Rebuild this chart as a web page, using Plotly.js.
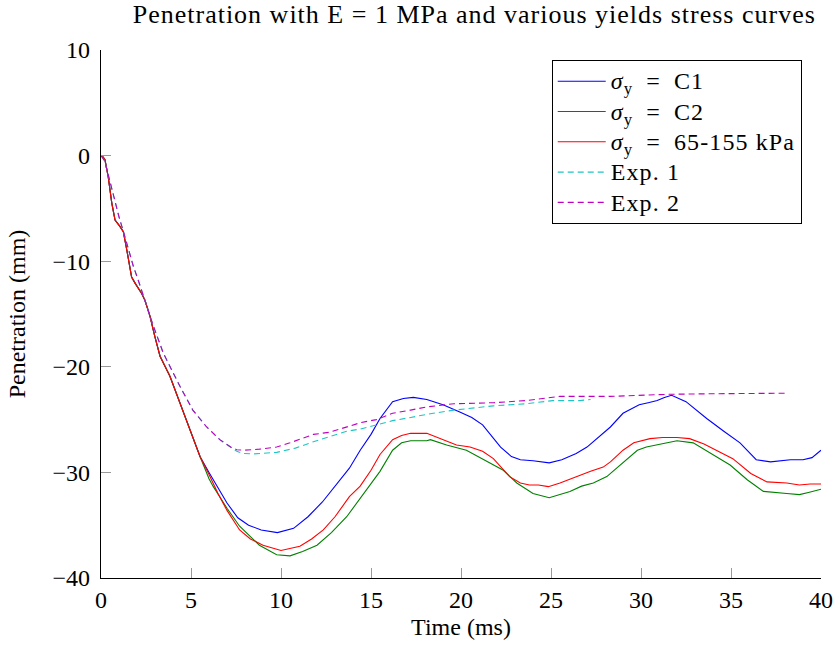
<!DOCTYPE html>
<html>
<head>
<meta charset="utf-8">
<script src="https://cdn.plot.ly/plotly-3.0.1.min.js"></script>
<style>
html,body{margin:0;padding:0;background:#fff;}
#chart{width:835px;height:648px;}
.gtitle{letter-spacing:1px;}
.legendtext{letter-spacing:1.1px;}
</style>
</head>
<body>
<div id="chart"></div>
<script>
// ---- Data ----
const tEarly = [0, 0.1, 0.22, 0.4, 0.6, 0.78, 1.05, 1.24, 1.43, 1.7, 1.9, 2.26, 2.44, 2.72, 3.0, 3.28, 3.83, 4.39, 4.94, 5.5];
const vEarly = [0, -0.1, -0.4, -2.0, -4.5, -6.1, -6.7, -7.2, -8.9, -11.5, -12.1, -13.05, -13.7, -15.2, -17.2, -19.0, -20.9, -23.5, -26.0, -28.5];

const tC1 = [6.0, 6.5, 7.0, 7.6, 8.2, 8.9, 9.8, 10.7, 11.5, 12.3, 13.0, 13.8, 14.4, 15.0, 15.5, 16.2, 16.8, 17.35, 18.1, 19.0, 19.9, 20.6, 21.2, 21.7, 22.2, 22.8, 23.3, 24.0, 24.9, 25.6, 26.4, 27.0, 27.5, 28.3, 29.0, 29.9, 30.4, 30.9, 31.3, 31.7, 32.5, 33.0, 33.65, 34.6, 35.5, 36.4, 37.2, 38.3, 39.0, 39.5, 40.0];
const vC1 = [-30.0, -31.5, -32.9, -34.3, -35.0, -35.45, -35.7, -35.3, -34.2, -32.8, -31.3, -29.6, -27.9, -26.4, -24.9, -23.3, -23.0, -22.9, -23.1, -23.6, -24.25, -24.8, -25.5, -26.5, -27.6, -28.5, -28.8, -28.9, -29.1, -28.8, -28.2, -27.6, -26.9, -25.7, -24.4, -23.6, -23.4, -23.2, -22.9, -22.7, -23.3, -24.0, -24.9, -26.1, -27.2, -28.8, -29.0, -28.8, -28.8, -28.6, -27.9];

const tC2 = [6.0, 6.24, 7.0, 7.7, 8.8, 9.76, 10.5, 11.2, 12.0, 12.8, 13.65, 14.4, 15.5, 16.2, 16.7, 17.2, 18.1, 18.3, 19.2, 20.3, 21.2, 22.35, 23.1, 24.0, 24.9, 25.5, 26.05, 26.7, 27.35, 28.1, 28.9, 29.8, 30.3, 30.9, 31.5, 32.0, 32.9, 33.4, 34.0, 34.95, 35.9, 36.8, 38.1, 38.8, 39.3, 40.0];
const vC2 = [-30.6, -31.35, -33.4, -35.1, -36.9, -37.8, -37.9, -37.5, -36.9, -35.7, -34.2, -32.45, -29.9, -27.9, -27.2, -27.0, -27.0, -26.9, -27.4, -27.9, -28.7, -29.8, -31.0, -32.0, -32.4, -32.1, -31.8, -31.3, -31.0, -30.4, -29.2, -27.9, -27.6, -27.4, -27.2, -27.0, -27.2, -27.7, -28.35, -29.3, -30.7, -31.8, -32.0, -32.1, -31.9, -31.6];

const tKPa = [6.0, 6.5, 7.0, 7.7, 8.3, 9.0, 10.0, 11.05, 11.7, 12.35, 13.0, 13.8, 14.4, 15.0, 15.5, 16.2, 16.7, 17.2, 18.1, 18.9, 19.75, 20.5, 21.2, 21.8, 22.7, 23.3, 23.8, 24.3, 24.85, 25.5, 26.4, 27.2, 27.9, 28.3, 29.0, 29.6, 30.5, 31.2, 32.0, 32.7, 33.5, 34.2, 35.1, 36.1, 37.0, 38.1, 38.8, 39.4, 40.0];
const vKPa = [-30.2, -32.0, -33.6, -35.45, -36.3, -36.9, -37.4, -37.0, -36.3, -35.45, -34.2, -32.3, -31.3, -29.8, -28.3, -26.9, -26.5, -26.3, -26.3, -26.8, -27.4, -27.6, -28.0, -28.7, -30.4, -31.0, -31.2, -31.2, -31.35, -31.0, -30.4, -29.9, -29.5, -29.0, -27.9, -27.2, -26.8, -26.7, -26.7, -26.8, -27.3, -27.9, -28.7, -30.1, -30.9, -31.0, -31.2, -31.1, -31.1];

const tExp1 = [0, 0.2, 0.4, 0.78, 1.0, 1.33, 1.8, 2.07, 2.44, 2.9, 3.46, 4.0, 4.4, 5.1, 5.87, 6.6, 7.2, 7.54, 7.9, 8.5, 9.76, 10.8, 11.8, 12.7, 13.65, 14.4, 15.3, 16.2, 17.2, 18.1, 19.6, 20.7, 21.8, 23.6, 25.1, 26.6, 27.2];
const vExp1 = [0, -0.5, -1.8, -4.5, -5.8, -7.7, -10.5, -11.8, -13.7, -16.1, -18.7, -20.6, -21.9, -24.1, -25.7, -26.9, -27.6, -28.0, -28.2, -28.25, -28.1, -27.7, -27.1, -26.6, -26.1, -25.9, -25.5, -25.1, -24.8, -24.5, -24.1, -23.9, -23.7, -23.5, -23.2, -23.2, -23.1];

const tExp2 = [0, 0.2, 0.4, 0.78, 1.0, 1.33, 1.8, 2.07, 2.44, 2.9, 3.46, 4.0, 4.4, 5.1, 5.87, 6.6, 7.2, 7.54, 7.9, 8.8, 9.76, 10.5, 11.2, 11.8, 12.7, 13.65, 14.4, 15.3, 16.2, 17.2, 18.1, 19.6, 21.8, 23.6, 25.5, 28.3, 29.0, 31.6, 34.0, 36.4, 38.2];
const vExp2 = [0, -0.5, -1.8, -4.5, -5.8, -7.7, -10.5, -11.8, -13.7, -16.1, -18.7, -20.6, -21.9, -24.1, -25.7, -26.9, -27.6, -27.85, -27.9, -27.8, -27.6, -27.2, -26.8, -26.4, -26.2, -25.7, -25.3, -25.0, -24.4, -24.1, -23.8, -23.5, -23.4, -23.2, -22.8, -22.8, -22.75, -22.6, -22.55, -22.5, -22.5];

const seriesNames = ['<i>σ</i><sub>y</sub>\u2002=\u2002C1', '<i>σ</i><sub>y</sub>\u2002=\u2002C2', '<i>σ</i><sub>y</sub>\u2002=\u200265-155 kPa', 'Exp. 1', 'Exp. 2'];
const xTicks = [0, 5, 10, 15, 20, 25, 30, 35, 40];
const yTicks = [-40, -30, -20, -10, 0, 10];

const FONT = 'Liberation Serif, Times New Roman, serif';
const line = (c, dash) => ({color: c, width: 1.1, dash: dash || 'solid'});
const big = s => '<span style="font-size:24px">' + s + '</span>';

const traces = [
  {x: tEarly.concat(tC1), y: vEarly.concat(vC1), name: big(seriesNames[0]), line: line('#0000ff')},
  {x: tEarly.concat(tC2), y: vEarly.concat(vC2), name: big(seriesNames[1]), line: line('#008000')},
  {x: tEarly.concat(tKPa), y: vEarly.concat(vKPa), name: big(seriesNames[2]), line: line('#ff0000')},
  {x: tExp1, y: vExp1, name: big(seriesNames[3]), line: line('#1fc4c4', '6px,4px')},
  {x: tExp2, y: vExp2, name: big(seriesNames[4]), line: line('#bf00bf', '6px,4px')}
].map(t => Object.assign({type: 'scatter', mode: 'lines'}, t));

const layout = {
  width: 835, height: 648,
  margin: {l: 101, r: 14, t: 50, b: 70},
  paper_bgcolor: '#fff', plot_bgcolor: '#fff',
  font: {family: FONT, size: 24, color: '#000'},
  title: {text: 'Penetration with E = 1 MPa and various yields stress curves', font: {size: 26},
          x: 0.568, xref: 'container', xanchor: 'center', y: 0.979, yref: 'container', yanchor: 'middle'},
  xaxis: {range: [0, 40], tickvals: xTicks, ticks: 'inside', ticklen: 10, tickcolor: '#9a9a9a', tickwidth: 1,
          showline: true, linecolor: '#000', linewidth: 1.2, showgrid: false, zeroline: false,
          ticklabelstandoff: 0, tickfont: {size: 24},
          title: {text: 'Time (ms)', standoff: 6, font: {size: 24}}},
  yaxis: {range: [-40, 10], tickvals: yTicks, ticks: 'inside', ticklen: 10, tickcolor: '#9a9a9a', tickwidth: 1,
          showline: true, linecolor: '#000', linewidth: 1.2, showgrid: false, zeroline: false,
          ticklabelstandoff: 5, tickfont: {size: 24},
          title: {text: 'Penetration (mm)', standoff: 20, font: {size: 24}}},
  legend: {x: 0.626, y: 0.981, xanchor: 'left', yanchor: 'top', bordercolor: '#000', borderwidth: 1,
           bgcolor: '#fff', itemwidth: 48, font: {size: 21}, tracegroupgap: 0},
  showlegend: true
};

Plotly.newPlot('chart', traces, layout, {displayModeBar: false, staticPlot: true});
</script>
</body>
</html>
